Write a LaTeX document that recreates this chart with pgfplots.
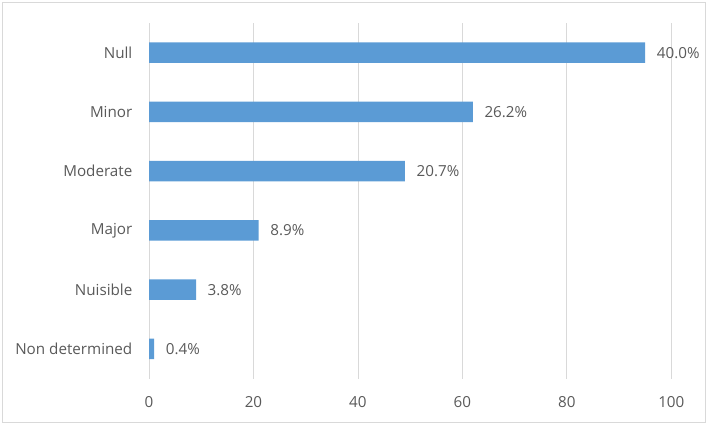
\documentclass[border=0pt]{standalone}
\usepackage{pgfplots}
\pgfplotsset{compat=1.18}
\usepackage{fontspec}
\setmainfont{Open Sans}
\definecolor{barblue}{HTML}{5B9BD5}
\definecolor{txt}{HTML}{595959}
\definecolor{gridc}{HTML}{D9D9D9}
\begin{document}
\begin{tikzpicture}[x=1pt,y=1pt]
\path (0,0) rectangle (709,426);
\draw[gridc, line width=1pt] (2.5,3.3) rectangle (705.5,423);
\begin{axis}[
 at={(149pt,47.5pt)}, anchor=south west, scale only axis,
 width=522.3pt, height=355.5pt,
 xbar, bar width=20.7pt,
 xmin=0, xmax=100, ymin=-0.5, ymax=5.5,
 xtick={0,20,...,100}, ytick={0,...,5},
 yticklabels={Non determined, Nuisible, Major, Moderate, Minor, Null},
 axis line style={draw=none}, major tick length=0pt,
 xmajorgrids, grid style={gridc, line width=0.8pt},
 tick label style={font=\fontsize{15.2}{18}\selectfont, text=txt},
 /pgf/number format/assume math mode=true,
 xticklabel style={anchor=center, yshift=-24pt},
 yticklabel style={anchor=east, inner sep=0pt, xshift=-16.5pt},
 nodes near coords, point meta=explicit symbolic,
 nodes near coords style={anchor=west, inner sep=0pt, xshift=11.5pt, font=\fontsize{15.2}{18}\selectfont, text=txt},
 clip=false,
]
\addplot[fill=barblue, draw=none] coordinates {(1,0)[0.4\%] (9,1)[3.8\%] (21,2)[8.9\%] (49,3)[20.7\%] (62,4)[26.2\%] (95,5)[40.0\%]};
\end{axis}
\end{tikzpicture}
\end{document}
